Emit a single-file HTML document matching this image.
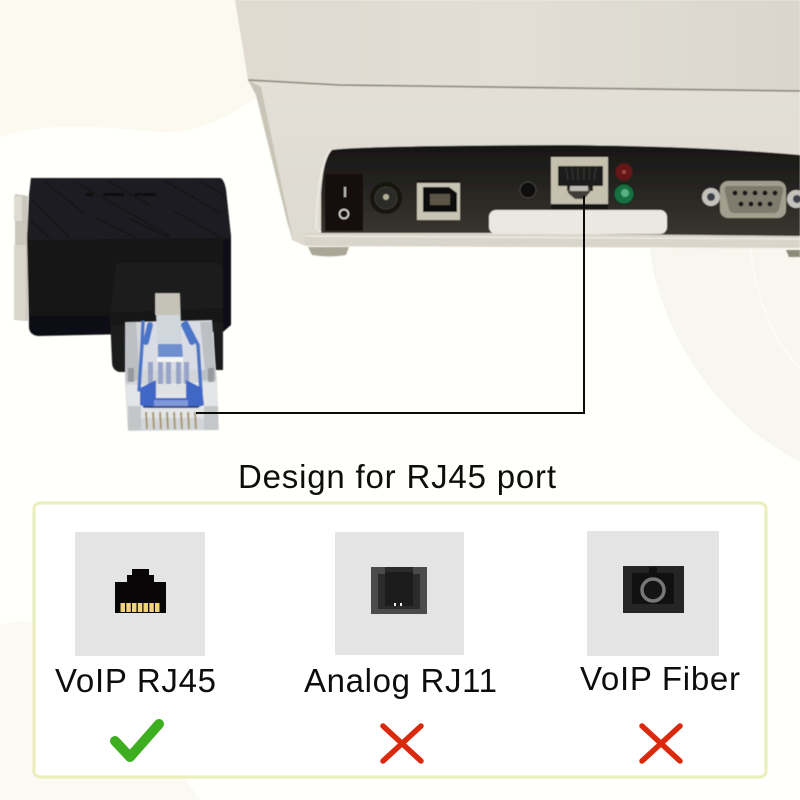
<!DOCTYPE html>
<html><head><meta charset="utf-8"><style>html,body{margin:0;padding:0;background:#fff}svg{display:block}text{font-family:"Liberation Sans",sans-serif;fill:#0d0d0d}</style></head><body>
<svg width="800" height="800" viewBox="0 0 800 800" xmlns="http://www.w3.org/2000/svg">
<defs>
<linearGradient id="pr" x1="0" y1="0" x2="1" y2="0"><stop offset="0" stop-color="#e0dad1"/><stop offset=".5" stop-color="#e2ded5"/><stop offset="1" stop-color="#dad6cd"/></linearGradient>
<linearGradient id="pr2" x1="0" y1="0" x2="0" y2="1"><stop offset="0" stop-color="#e3e0d7"/><stop offset="1" stop-color="#dedad1"/></linearGradient>
<linearGradient id="pan" x1="0" y1="0" x2="0" y2="1"><stop offset="0" stop-color="#171615"/><stop offset=".4" stop-color="#24221f"/><stop offset="1" stop-color="#3a3630"/></linearGradient>
<linearGradient id="body" x1="0" y1="0" x2="0" y2="1"><stop offset="0" stop-color="#17171a"/><stop offset="1" stop-color="#111113"/></linearGradient>
<filter id="b1" x="-5%" y="-5%" width="110%" height="110%"><feGaussianBlur stdDeviation=".5"/></filter>
</defs>
<rect width="800" height="800" fill="#fffffb"/>
<path d="M0 0 L240 0 L262 95 C235 110 205 135 160 132 C110 128 50 120 0 137Z" fill="#fcfaf0"/>
<path d="M650 248 C655 310 700 410 800 462 L800 248Z" fill="#f8f7ef"/>
<path d="M750 248 C755 290 770 340 800 368" fill="none" stroke="#fcfbf6" stroke-width="2"/>
<path d="M0 625 C50 610 90 640 200 800 L0 800Z" fill="#fbfaf2"/>

<!-- printer -->
<g filter="url(#b1)">
<path d="M235 0 L800 0 L800 92 L261 88 L248 80 Z" fill="url(#pr)"/>
<path d="M248 80 L800 91 L800 248 L305 246 L292 240 L259 92Z" fill="url(#pr2)"/>
<path d="M248 80 L340 85 L800 91" fill="none" stroke="#8e8c7e" stroke-width="1.800"/>
<path d="M248 80 L261 87 L293 240 L288 225 L256 95Z" fill="#c8c4b6"/>
<path d="M304 233 Q303 243 306 246 L800 248 L800 236 Z" fill="#d9d5ca"/>
<path d="M305 236 L800 239" stroke="#f4f2ec" stroke-width="1" fill="none"/>
<path d="M308 247 L349 247 L346 255 Q330 258 312 255Z" fill="#aaa796"/>
<path d="M786 250 L800 250 L800 257 L789 257Z" fill="#8c8a78"/>
<path d="M321 233 L321 195 Q323 158 332 150 Q352 146 560 145 Q700 146 800 155 L800 236 L500 233Z" fill="url(#pan)"/>
<path d="M321 232 L316 228 Q318 165 331 149" fill="none" stroke="#ece9e1" stroke-width="2"/>
<!-- switch -->
<rect x="325" y="174" width="38" height="57" fill="#121110"/>
<rect x="344" y="187" width="2" height="10" fill="#bbb"/>
<circle cx="344" cy="214" r="4.500" fill="none" stroke="#ddd" stroke-width="1.500"/>
<!-- jack -->
<circle cx="386" cy="198" r="16" fill="#141311"/>
<circle cx="386" cy="198" r="11" fill="#2a2926" stroke="#3c3a36"/>
<circle cx="386" cy="197" r="3" fill="#b4ad98"/>
<!-- usb -->
<rect x="417" y="180" width="43" height="40" fill="#c9c5b4"/>
<rect x="417" y="180" width="43" height="3" fill="#1a1917"/>
<path d="M423 187 L449 187 L457 193 L457 212 L423 212Z" fill="#0d0c0b"/>
<rect x="430" y="194" width="20" height="11" fill="#5b5747"/>
<!-- dot -->
<circle cx="528" cy="190" r="8" fill="#0f0e0d" stroke="#45433e"/>
<!-- rj45 -->
<rect x="551" y="157" width="57" height="50" fill="#c6c1af"/>
<rect x="551" y="204" width="57" height="5" fill="#161513"/>
<path d="M558 166 L603 166 L603 186 L593 186 L593 191 L567 191 L567 186 L558 186Z" fill="#1e1d1b"/>
<g stroke="#3a3834" stroke-width="1"><path d="M566 167 L568 180"/><path d="M572 167 L573 180"/><path d="M578 167 L578 180"/><path d="M584 167 L584 180"/><path d="M590 167 L589 180"/><path d="M596 167 L594 180"/></g>
<path d="M568 188 L590 188 L590 192 L584 199 L575 199 L568 193Z" fill="#403d38"/>
<rect x="570" y="186" width="18" height="5" fill="#bdbbb4"/>
<!-- leds -->
<circle cx="624" cy="172" r="8.500" fill="#651814"/>
<circle cx="624" cy="172" r="2" fill="#9c4640"/>
<circle cx="624" cy="194" r="10" fill="#137040" stroke="#0e2a1c"/>
<circle cx="625" cy="193" r="4" fill="#56b183"/>
<!-- label -->
<rect x="489" y="210" width="178" height="24" rx="7" fill="#ebe8e1"/>
<!-- db9 -->
<circle cx="711" cy="197" r="9" fill="#c4c3bb"/>
<circle cx="711" cy="197" r="4" fill="#3e4048"/>
<circle cx="796" cy="199" r="9" fill="#c4c3bb"/>
<circle cx="797" cy="199" r="4" fill="#3e4048"/>
<rect x="720" y="181" width="66" height="37" rx="8" fill="#a39f8e"/>
<path d="M727 186 L780 186 Q784 186 783 192 L779 209 Q778 213 773 213 L734 213 Q730 213 729 209 L725 192 Q724 186 727 186Z" fill="#7e7a6c"/>
<g fill="#131215"><circle cx="735" cy="193" r="2.400"/><circle cx="745" cy="193" r="2.400"/><circle cx="755" cy="193" r="2.400"/><circle cx="765" cy="193" r="2.400"/><circle cx="775" cy="193" r="2.400"/><circle cx="741" cy="204" r="2.400"/><circle cx="751" cy="204" r="2.400"/><circle cx="760" cy="204" r="2.400"/><circle cx="770" cy="204" r="2.400"/></g>
</g>

<!-- adapter -->
<g filter="url(#b1)">
<path d="M28 196 L15 194 L15 320 L28 321Z" fill="#c9c6bc"/>
<rect x="14" y="196" width="8" height="25" fill="#dedbd2"/>
<rect x="14" y="245" width="12" height="75" fill="#d8d5ca"/>
<path d="M31 178 L220 178 Q224 179 226 190 L231 236 L231 325 L223 332 L38 336 Q30 335 29 328 L27 238Z" fill="url(#body)"/>
<path d="M31 178 L220 178 Q224 179 226 190 L231 238 L27 240 L29 195Z" fill="#1f1f23"/>
<g stroke="#0e0e10" stroke-width="1" fill="none">
<path d="M45 182 L85 214"/><path d="M32 200 L70 238"/><path d="M30 220 L50 238"/>
<path d="M75 182 L170 236"/><path d="M97 218 L137 238"/><path d="M130 219 L170 238"/>
<path d="M108 181 L150 205"/><path d="M165 181 L222 214"/><path d="M172 210 L222 238"/><path d="M200 181 L225 196"/>
</g>
<g fill="#0a0a0b"><rect x="86" y="193" width="7" height="3" rx="1"/><rect x="103" y="193" width="21" height="3" rx="1"/><rect x="135" y="193" width="21" height="3" rx="1"/></g>
<path d="M116 263 L218 263 Q222 264 223 272 L223 370 L215 370 L213 320 L127 320 L127 372 L119 372 Q112 370 112 362 L110 315Z" fill="#1b1b1e"/>
<path d="M110 313 L223 308 L223 322 L110 325Z" fill="#131315"/>
<rect x="223" y="240" width="8" height="85" fill="#111113"/>
</g>

<!-- rj45 plug -->
<g filter="url(#b1)">
<path d="M125 322 L212 320 L217 382 L219 430 L128 431 L125 382Z" fill="#d3d6d9"/>
<path d="M126 385 L217 382 L218 418 L128 418Z" fill="#e4e5e7"/>
<path d="M125 322 L136 322 L140 380 L126 382Z" fill="#bcc0c3"/>
<path d="M200 322 L212 322 L216 380 L202 380Z" fill="#bcc0c3"/>
<path d="M140 322 L200 322 L205 370 L140 370Z" fill="#d9dce4"/>
<g stroke="#4a74c9" fill="none" stroke-linecap="round">
<path d="M143 322 L142 345 L139 390" stroke-width="3.500"/>
<path d="M186 322 L198 345 L201 392" stroke-width="3.500"/>
<path d="M150 325 L146 342" stroke-width="6"/><path d="M184 325 L192 342" stroke-width="6"/>
</g>
<g fill="#98a4c9"><rect x="148" y="362" width="5" height="22"/><rect x="158" y="362" width="5" height="22"/><rect x="166" y="362" width="5" height="22"/><rect x="176" y="362" width="5" height="22"/><rect x="184" y="362" width="5" height="22"/></g>
<path d="M140 388 L156 380 L156 398 L186 398 L186 380 L202 388 L204 405 L196 408 L148 408 L140 405Z" fill="#3f66c6"/>
<rect x="156" y="385" width="30" height="9" fill="#dfe1e2"/>
<rect x="154" y="400" width="34" height="7" fill="#7d97d9"/>
<path d="M143 407 L199 407" stroke="#25385f" stroke-width="1.500"/>
<path d="M155 293 L180 293 L182 360 L158 360Z" fill="#cfd6dc"/>
<rect x="155" y="293" width="25" height="22" fill="#c5c3b8"/>
<path d="M158 344 L182 344 L183 358 L158 358Z" fill="#6d8fce"/>
<path d="M157 357 L183 357 L183 362 L157 362Z" fill="#f4f4f2"/>
<rect x="128" y="368" width="6" height="14" fill="#85898d" opacity=".7"/>
<rect x="208" y="368" width="6" height="14" fill="#85898d" opacity=".7"/>
<rect x="128" y="406" width="13" height="24" fill="#c4c7c8"/>
<rect x="204" y="406" width="14" height="24" fill="#c4c7c8"/>
<g stroke="#a6986f" stroke-width="2"><path d="M146 412 L147 429"/><path d="M153 412 L154 429"/><path d="M160 412 L161 429"/><path d="M167 412 L168 429"/><path d="M174 412 L175 429"/><path d="M181 412 L182 429"/><path d="M188 412 L189 429"/><path d="M195 412 L196 429"/></g>
</g>

<path d="M196 413 L584 413 L584 196" fill="none" stroke="#0a0a0a" stroke-width="2"/>

<text x="238" y="488" font-size="33" textLength="318" lengthAdjust="spacing">Design for RJ45 port</text>

<!-- card -->
<rect x="34" y="503" width="732" height="274" rx="6" fill="#fff" stroke="#eaeeb8" stroke-width="3"/>
<rect x="75" y="532" width="130" height="124" fill="#e4e4e4"/>
<rect x="335" y="532" width="129" height="123" fill="#e4e4e4"/>
<rect x="587" y="531" width="132" height="125" fill="#e4e4e4"/>

<path d="M132 569 L149 569 L149 575 L154 575 L154 582 L166 582 L166 613 L115 613 L115 582 L127 582 L127 575 L132 575Z" fill="#070506"/>
<g fill="#f0d479"><rect x="120.500" y="603" width="4.500" height="9"/><rect x="126.300" y="603" width="4.500" height="9"/><rect x="132" y="603" width="4.500" height="9"/><rect x="137.800" y="603" width="4.500" height="9"/><rect x="143.500" y="603" width="4.500" height="9"/><rect x="149.300" y="603" width="4.500" height="9"/><rect x="155" y="603" width="4.500" height="9"/></g>

<rect x="371" y="567" width="56" height="47" fill="#4a4a4a"/>
<path d="M378 574 L385 574 L385 567 L413 567 L413 574 L420 574 L420 609 L378 609Z" fill="#2b2b2b"/>
<path d="M385 572 L413 572 L413 606 L385 606Z" fill="#1c1c1c"/>
<rect x="394" y="603" width="2" height="3" fill="#eee"/><rect x="400" y="603" width="2" height="3" fill="#eee"/>

<rect x="623" y="566" width="61" height="47" fill="#252525"/>
<rect x="632" y="573" width="42" height="31" fill="#111"/>
<rect x="649" y="567" width="8" height="8" fill="#111"/>
<circle cx="653" cy="590" r="11" fill="#141414" stroke="#777" stroke-width="3.500"/>

<text x="55" y="692" font-size="33" textLength="161" lengthAdjust="spacing">VoIP RJ45</text>
<text x="304" y="692" font-size="33" textLength="193" lengthAdjust="spacing">Analog RJ11</text>
<text x="580" y="690" font-size="33" textLength="160" lengthAdjust="spacing">VoIP Fiber</text>

<path d="M115 741 L130 757 L159 724" fill="none" stroke="#3dae1f" stroke-width="10" stroke-linecap="round" stroke-linejoin="round"/>
<path d="M383 726 L421 761 M421 726 L383 761" fill="none" stroke="#da2a0e" stroke-width="5.500" stroke-linecap="round"/>
<path d="M642 726 L680 761 M680 726 L642 761" fill="none" stroke="#da2a0e" stroke-width="5.500" stroke-linecap="round"/>
</svg>
</body></html>
